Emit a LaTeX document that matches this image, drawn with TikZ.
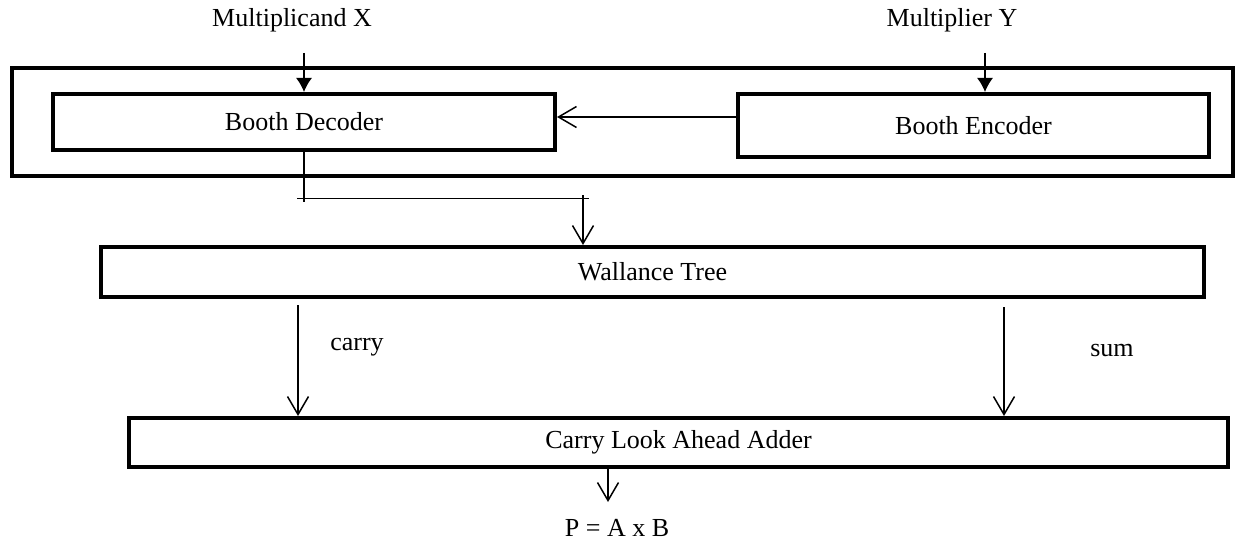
\documentclass[tikz,border=0pt]{standalone}
\usepackage{fontspec}
\setmainfont{Liberation Serif}
\usetikzlibrary{arrows.meta,calc}

\begin{document}
\begin{tikzpicture}[x=0.5pt,y=-0.5pt,
    blk/.style={draw, line width=2pt, inner sep=0pt, font=\fontsize{13}{15}\selectfont},
    lbl/.style={font=\fontsize{13}{15}\selectfont},
    wire/.style={line width=0.75pt},
    opn/.style={wire, -{Straight Barb[length=9pt,width=10.5pt]}},
    fil/.style={wire, -{Latex[length=7pt,width=8pt]}}]
    \useasboundingbox (0,0) rectangle (1236,540);
    % inputs
    \node[lbl] (mx) at (292,20) {Multiplicand X};
    \node[lbl] (my) at (952,20) {Multiplier Y};
    % booth stage
    \node[blk, minimum width=610.5pt, minimum height=54pt] (booth) at (622.5,122) {};
    \node[blk, minimum width=251pt, minimum height=28pt] (dec) at (304,122) {Booth Decoder};
    \node[blk, minimum width=235.5pt, minimum height=31.5pt] (enc) at (973.5,125.5) {Booth Encoder};
    % lower stages
    \node[blk, minimum width=551.5pt, minimum height=25pt] (tree) at (652.5,272) {Wallance Tree};
    \node[blk, minimum width=549.5pt, minimum height=24.5pt] (cla) at (678.5,442.5) {Carry Look Ahead Adder};
    \node[lbl] (prod) at (617,528) {P = A x B};
    \node[lbl] (carry) at (357,347) {carry};
    \node[lbl] (sum) at (1112,350) {sum};
    % connectors
    \coordinate (xin) at (304,53);
    \coordinate (yin) at (985,53);
    \coordinate (lk) at (0,117);
    \draw[fil] (xin) -- (xin |- dec.north);
    \draw[fil] (yin) -- (yin |- enc.north);
    \draw[opn] (enc.west |- lk) -- (dec.east |- lk);
    \coordinate (j1) at (304,198);
    \coordinate (j2) at (583,198);
    \draw[wire] (dec.south) -- ($(j1)+(0,4)$);
    \draw[line width=0.5pt] ($(j1)+(-7,0)$) -- ($(j2)+(6,0)$);
    \draw[opn] ($(j2)+(0,-3)$) -- (j2 |- tree.north);
    \coordinate (cy) at (298,305);
    \coordinate (sm) at (1004,307);
    \draw[opn] (cy) -- (cy |- cla.north);
    \draw[opn] (sm) -- (sm |- cla.north);
    \coordinate (po) at (608,502);
    \draw[opn] (po |- cla.south) -- (po);
\end{tikzpicture}
\end{document}
